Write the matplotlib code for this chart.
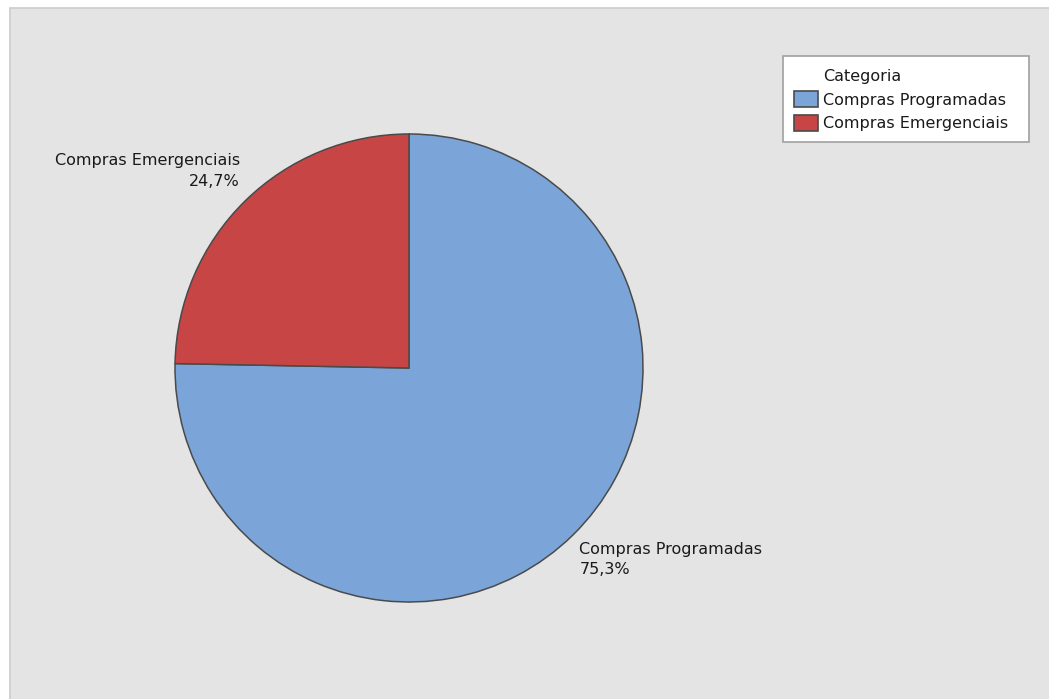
import numpy as np
import matplotlib
matplotlib.use('Agg')
import matplotlib.pyplot as plt
from matplotlib.patches import Patch, Rectangle

plt.rcParams['font.family'] = ['DejaVu Sans']

categories = ['Compras Programadas', 'Compras Emergenciais']
shares = [75.3, 24.7]
slice_colors = ['#7ba5d8', '#c74545']
edge = '#4a4a4a'

fig = plt.figure(figsize=(10.49, 6.99), dpi=100, facecolor='white')

# gray chart area with a thin white margin on top and left
x0, top = 9.5 / 1049, 1 - 7.5 / 699
fig.patches.append(Rectangle((x0, -0.01), 1.0, top + 0.01,
                             transform=fig.transFigure, facecolor='#e4e4e4',
                             edgecolor='#cccccc', lw=1.2, zorder=-5))

# pie centre at (409, 368) px, radius 234 px
R = 234 * 1.2
ax = fig.add_axes([(409 - R) / 1049, (699 - 368 - R) / 699,
                   2 * R / 1049, 2 * R / 699])

wedges, _ = ax.pie(shares, colors=slice_colors, startangle=90, counterclock=False,
                   radius=1.0, wedgeprops=dict(edgecolor=edge, linewidth=1.1))
ax.set_xlim(-1.2, 1.2)
ax.set_ylim(-1.2, 1.2)
ax.set_aspect('equal')
ax.axis('off')

for w, name, val in zip(wedges, categories, shares):
    mid = np.deg2rad((w.theta1 + w.theta2) / 2)
    x, y = 1.04 * np.cos(mid), 1.04 * np.sin(mid)
    ha = 'left' if x > 0 else 'right'
    va = 'bottom' if y > 0 else 'top'
    ax.annotate(f'{name}\n{val:.1f}%'.replace('.', ','), (x, y),
                xytext=(1, 4) if y > 0 else (0, 0), textcoords='offset points',
                ha=ha, va=va, multialignment=ha, fontsize=11.5,
                color='#1a1a1a', linespacing=1.45)

handles = [Patch(visible=False)] + [Patch(facecolor=c, edgecolor=edge, lw=1.2)
                                    for c in slice_colors]
labels = ['Categoria'] + [c + '  ' for c in categories]
leg = fig.legend(handles, labels, loc='upper left',
                 bbox_to_anchor=(783 / 1049, 1 - 56 / 699), fontsize=11.5,
                 frameon=True, fancybox=False, edgecolor='#a0a0a0', framealpha=1,
                 handlelength=1.5, handleheight=1.2, handletextpad=0.3,
                 labelspacing=0.45, borderpad=0.7, borderaxespad=0)
leg.get_frame().set_linewidth(1.2)
for t in leg.get_texts():
    t.set_color('#1a1a1a')

fig.savefig('out.png', dpi=100, facecolor='white')
